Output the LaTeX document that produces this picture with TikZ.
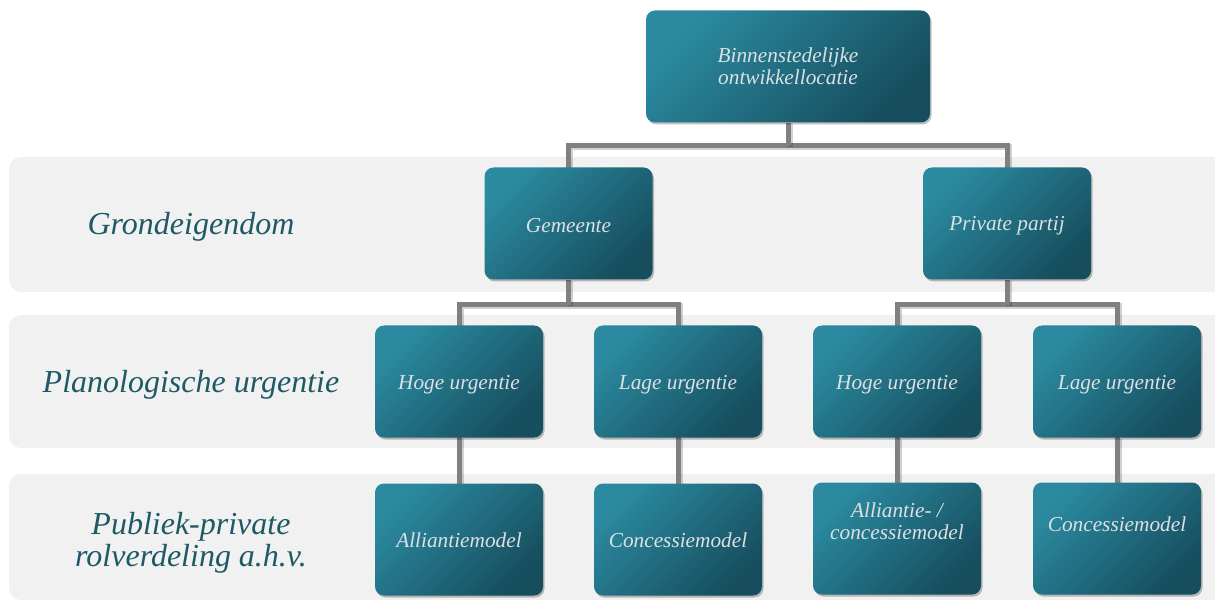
\documentclass[tikz,border=0pt]{standalone}
\usepackage{fontspec}
\setmainfont{Liberation Serif}
\usetikzlibrary{shadows}

\definecolor{bandgray}{RGB}{241,241,241}
\definecolor{boxtop}{RGB}{43,138,160}
\definecolor{boxbot}{RGB}{22,78,94}
\definecolor{boxtext}{RGB}{220,224,227}
\definecolor{labelteal}{RGB}{30,90,102}
\definecolor{conngray}{RGB}{128,128,128}

\begin{document}
\begin{tikzpicture}[x=1pt, y=-1pt,
  band/.style={fill=bandgray, draw=none, rounded corners=12pt},
  tealbox/.style={rounded corners=9pt, top color=boxtop, bottom color=boxbot,
    shading angle=45, draw=none, minimum width=168pt, minimum height=112pt,
    inner sep=0pt,
    drop shadow={shadow xshift=1.5pt, shadow yshift=-2pt, opacity=0.25, fill=black}},
  boxtxt/.style={text=boxtext, align=center, inner sep=0pt,
    font=\fontsize{21.3}{22}\selectfont\itshape},
  rowlabel/.style={text=labelteal, align=center, inner sep=0pt,
    font=\fontsize{32}{32}\selectfont\itshape},
  conn/.style={draw=conngray, line width=5pt,
    preaction={draw=black, opacity=0.18, line width=6pt,
      transform canvas={shift={(1.5pt,-1.5pt)}}}}
]
\useasboundingbox (0,0) rectangle (1215,601);
\clip (0,0) rectangle (1215,601);

% row bands
\fill[band] (9,157) rectangle (1240,292);
\fill[band] (9,315) rectangle (1240,448);
\fill[band] (9,474) rectangle (1240,600);

% row labels
\node[rowlabel] (lab1) at (191,227) {Grondeigendom};
\node[rowlabel] (lab2) at (191,385) {Planologische urgentie};
\node[rowlabel] (lab3) at (191,543) {Publiek-private\\rolverdeling a.h.v.};

% junction points of the connectors
\coordinate (j0) at (788,146);
\coordinate (j1) at (568,305);
\coordinate (j2) at (1007,305);

% connectors
\draw[conn] (568,169) |- (j0) -| (1007,169);
\draw[conn] (788,123) -- (j0);
\draw[conn] (459,328) |- (j1) -| (678,328);
\draw[conn] (568,280) -- (j1);
\draw[conn] (897,328) |- (j2) -| (1117,328);
\draw[conn] (1007,280) -- (j2);
\draw[conn] (459,437) -- (459,486);
\draw[conn] (678,437) -- (678,486);
\draw[conn] (897,437) -- (897,486);
\draw[conn] (1117,437) -- (1117,486);

% boxes
\node[tealbox, minimum width=284pt] (top) at (788,66.5) {};
\node[tealbox] (gem) at (568.5,223.5) {};
\node[tealbox] (priv) at (1007,223.5) {};
\node[tealbox] (h1) at (459,381.5) {};
\node[tealbox] (l1) at (678,381.5) {};
\node[tealbox] (h2) at (897,381.5) {};
\node[tealbox] (l2) at (1117,381.5) {};
\node[tealbox] (a1) at (459,539.5) {};
\node[tealbox] (c1) at (678,539.5) {};
\node[tealbox] (a2) at (897,538.5) {};
\node[tealbox] (c2) at (1117,538.5) {};

% box texts
\node[boxtxt] (topt) at (top.center) {Binnenstedelijke\\ontwikkellocatie};
\node[boxtxt] (gemt) at ([yshift=-2pt]gem.center) {Gemeente};
\node[boxtxt] (privt) at ([yshift=-2pt]priv.center) {Private partij};
\node[boxtxt] (h1t) at ([yshift=-3pt]h1.center) {Hoge urgentie};
\node[boxtxt] (l1t) at ([yshift=-3pt]l1.center) {Lage urgentie};
\node[boxtxt] (h2t) at ([yshift=-3pt]h2.center) {Hoge urgentie};
\node[boxtxt] (l2t) at ([yshift=-3pt]l2.center) {Lage urgentie};
\node[boxtxt] (a1t) at ([yshift=-1pt]a1.center) {Alliantiemodel};
\node[boxtxt] (c1t) at ([yshift=-1pt]c1.center) {Concessiemodel};
\node[boxtxt] (a2t) at (897,521) {Alliantie- /\\concessiemodel};
\node[boxtxt] (c2t) at (1117,524) {Concessiemodel};
\end{tikzpicture}
\end{document}
